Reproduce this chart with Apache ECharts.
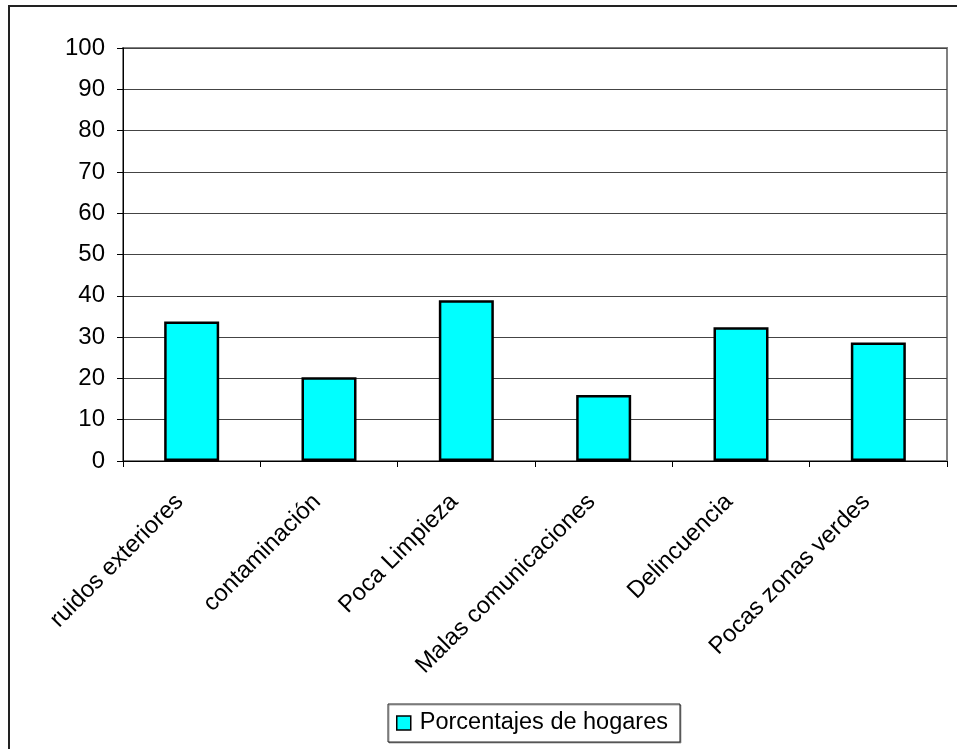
<!DOCTYPE html>
<html>
<head>
<meta charset="utf-8">
<script src="https://cdn.jsdelivr.net/npm/echarts@6/dist/echarts.min.js"></script>
<style>
  html, body { margin: 0; padding: 0; background: #fff; }
  #chart { width: 957px; height: 749px; }
</style>
</head>
<body>
<div id="chart"></div>
<script>
// Problems reported by households (% of households)
const categories = [
  'ruidos exteriores',
  'contaminación',
  'Poca Limpieza',
  'Malas comunicaciones',
  'Delincuencia',
  'Pocas zonas verdes'
];
const seriesName = 'Porcentajes de hogares';
const values = [33.8, 20.3, 38.9, 16.0, 32.4, 28.7];
const yTicks = { min: 0, max: 100, interval: 10 };

const FONT = 'Arial, "Liberation Sans", sans-serif';

const chart = echarts.init(document.getElementById('chart'), null, { renderer: 'canvas' });

chart.setOption({
  animation: false,
  backgroundColor: '#ffffff',
  textStyle: { fontFamily: FONT },
  graphic: [
    {
      // outer chart frame (runs past the right and bottom edges)
      type: 'rect',
      silent: true,
      z: -10,
      shape: { x: 9, y: 6, width: 980, height: 800 },
      style: { fill: 'none', stroke: '#222', lineWidth: 2 }
    }
  ],
  grid: {
    left: 123,
    right: 10,
    top: 48,
    bottom: 288,
    show: true,
    borderColor: '#808080',
    borderWidth: 2,
    backgroundColor: 'transparent'
  },
  legend: {
    data: [seriesName],
    left: 388,
    top: 704,
    orient: 'horizontal',
    padding: [7, 12, 7, 8],
    borderColor: '#222',
    borderWidth: 1,
    backgroundColor: '#fff',
    shadowColor: 'rgba(0,0,0,0.35)',
    shadowOffsetX: 1,
    shadowOffsetY: 1,
    itemWidth: 14,
    itemHeight: 14,
    icon: 'rect',
    itemStyle: { color: '#00FFFF', borderColor: '#000', borderWidth: 1.5 },
    textStyle: { fontSize: 23.5, color: '#000', fontFamily: FONT, padding: [0, 0, 0, 4] }
  },
  xAxis: {
    type: 'category',
    data: categories,
    boundaryGap: true,
    axisLine: { show: true, lineStyle: { color: '#000', width: 1 } },
    axisTick: { show: true, length: 6, inside: false, lineStyle: { color: '#000' } },
    axisLabel: {
      interval: 0,
      rotate: 45,
      margin: 25,
      padding: [0, 17, 0, 0],
      fontSize: 24,
      color: '#000',
      fontFamily: FONT
    },
    splitLine: { show: false }
  },
  yAxis: {
    type: 'value',
    min: yTicks.min,
    max: yTicks.max,
    interval: yTicks.interval,
    axisLine: { show: true, lineStyle: { color: '#000', width: 1 } },
    axisTick: { show: true, length: 6, inside: false, lineStyle: { color: '#000' } },
    axisLabel: { margin: 18, fontSize: 24, color: '#000', fontFamily: FONT },
    splitLine: { show: true, lineStyle: { color: '#444', width: 1 } }
  },
  series: [
    {
      name: seriesName,
      type: 'bar',
      data: values,
      barWidth: 55,
      itemStyle: { color: '#00FFFF', borderColor: '#000', borderWidth: 2.5 }
    }
  ]
});
</script>
</body>
</html>
